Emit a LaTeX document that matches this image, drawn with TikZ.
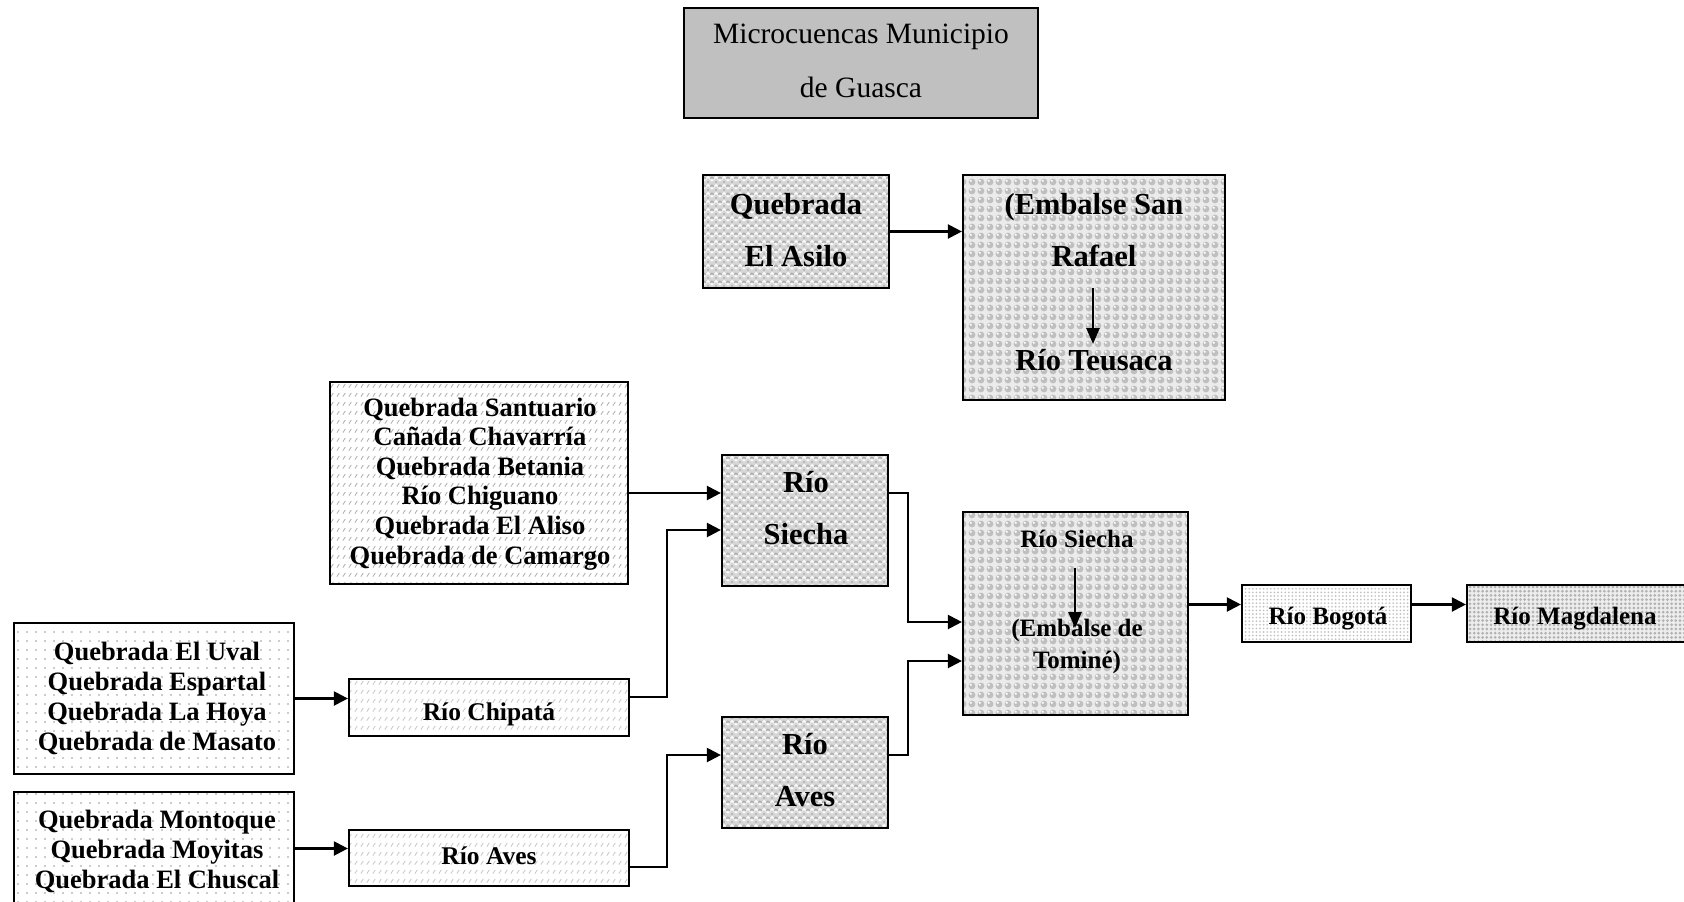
\documentclass[tikz,border=0pt]{standalone}
\usepackage{fontspec}
\setmainfont{Liberation Serif}
\usetikzlibrary{patterns.meta,arrows.meta}

\newcommand\stk[1]{\begin{tabular}[t]{@{}c@{}}#1\end{tabular}}
\newcommand\ftitle{\fontsize{29.5}{54}\selectfont}
\newcommand\fbig{\fontsize{30.5}{52}\selectfont\bfseries}
\newcommand\flista{\fontsize{26.5}{29.6}\selectfont\bfseries}
\newcommand\flistb{\fontsize{26.5}{30}\selectfont\bfseries}
\newcommand\fmid{\fontsize{25}{32}\selectfont\bfseries}
\newcommand\fsmall{\fontsize{25.5}{30}\selectfont\bfseries}

\definecolor{titlegray}{RGB}{192,192,192}

\pgfdeclarepattern{
  name=zigA,
  type=uncolored,
  bottom left={\pgfpoint{-1pt}{-1pt}},
  top right={\pgfpoint{9pt}{9pt}},
  tile size={\pgfpoint{8pt}{8pt}},
  code={
    \pgfsetlinewidth{1.4pt}
    \pgfpathmoveto{\pgfpoint{0pt}{1pt}}
    \pgfpathlineto{\pgfpoint{4pt}{5pt}}
    \pgfpathlineto{\pgfpoint{8pt}{1pt}}
    \pgfusepath{stroke}
  }
}
\pgfdeclarepattern{
  name=zigB,
  type=uncolored,
  bottom left={\pgfpoint{-1pt}{-1pt}},
  top right={\pgfpoint{9pt}{9pt}},
  tile size={\pgfpoint{8pt}{8pt}},
  code={
    \pgfsetlinewidth{1.1pt}
    \pgfpathmoveto{\pgfpoint{0pt}{5pt}}
    \pgfpathlineto{\pgfpoint{2pt}{3pt}}
    \pgfpathmoveto{\pgfpoint{6pt}{3pt}}
    \pgfpathlineto{\pgfpoint{8pt}{5pt}}
    \pgfpathmoveto{\pgfpoint{4pt}{9pt}}
    \pgfpathlineto{\pgfpoint{4pt}{7pt}}
    \pgfusepath{stroke}
  }
}
\pgfdeclarepattern{
  name=dashdiag,
  type=uncolored,
  bottom left={\pgfpoint{0pt}{0pt}},
  top right={\pgfpoint{6pt}{9pt}},
  tile size={\pgfpoint{6pt}{9pt}},
  code={
    \pgfsetlinewidth{0.9pt}
    \pgfpathmoveto{\pgfpoint{1pt}{1.5pt}}
    \pgfpathlineto{\pgfpoint{3.8pt}{5.5pt}}
    \pgfusepath{stroke}
  }
}

\tikzset{
  box/.style={draw, line width=2.2pt, rectangle, inner sep=0pt},
  reborder/.style={postaction={draw, line width=2.2pt}},
  titlebox/.style={box, fill=titlegray},
  weavebox/.style={box, fill=gray!32,
    postaction={pattern=zigA, pattern color=white},
    postaction={pattern=zigB, pattern color=gray!65}, reborder},
  spherebox/.style={box, fill=gray!16,
    postaction={pattern={Dots[distance=9pt,radius=3.4pt]}, pattern color=gray!50},
    postaction={pattern={Dots[distance=9pt,radius=1.2pt,xshift=-1.2pt,yshift=1.2pt]}, pattern color=white}, reborder},
  diagbox/.style={box, fill=white,
    postaction={pattern=dashdiag, pattern color=gray!62}, reborder},
  diaglight/.style={box, fill=white,
    postaction={pattern=dashdiag, pattern color=gray!45}, reborder},
  dotbox/.style={box, fill=white,
    postaction={pattern={Dots[distance=9pt,radius=0.95pt]}, pattern color=gray!80}, reborder},
  finebox/.style={box, fill=white,
    postaction={pattern={Dots[distance=3.6pt,radius=0.95pt]}, pattern color=gray!48}, reborder},
  densebox/.style={box, fill=gray!14,
    postaction={pattern={Dots[distance=4.2pt,radius=1.5pt]}, pattern color=gray!60}, reborder},
  txt/.style={inner sep=0pt, anchor=base, text=black},
  arr/.style={line width=2.2pt, -{Triangle[length=14pt,width=14pt]}},
  inarr/.style={line width=2.6pt, -{Triangle[length=16pt,width=13pt]}},
}

\begin{document}
\begin{tikzpicture}[x=1pt,y=-1pt]
\useasboundingbox (0,0) rectangle (1684,902);

% boxes
\node[titlebox, minimum width=354pt, minimum height=110pt] (title) at (861,63) {};
\node[weavebox, minimum width=186pt, minimum height=113pt] (asilo) at (796,231.5) {};
\node[spherebox, minimum width=262pt, minimum height=225pt] (emb) at (1094,287.5) {};
\node[diagbox, minimum width=298pt, minimum height=202pt] (sant) at (479,483) {};
\node[dotbox, minimum width=280pt, minimum height=151pt] (uval) at (154,698.5) {};
\node[dotbox, minimum width=280pt, minimum height=113pt] (mont) at (154,848.5) {};
\node[diaglight, minimum width=280pt, minimum height=57pt] (chip) at (489,707.5) {};
\node[diaglight, minimum width=280pt, minimum height=56pt] (avsm) at (489,858) {};
\node[weavebox, minimum width=166pt, minimum height=131pt] (siecha) at (805,520.5) {};
\node[weavebox, minimum width=166pt, minimum height=111pt] (aves) at (805,772.5) {};
\node[spherebox, minimum width=225pt, minimum height=203pt] (tom) at (1075.5,613.5) {};
\node[finebox, minimum width=169pt, minimum height=57pt] (bog) at (1326.5,613.5) {};
\node[densebox, minimum width=223pt, minimum height=57pt] (mag) at (1578.5,613.5) {};

% texts
\node[txt, font=\ftitle] (titlet) at (861,43) {\stk{Microcuencas Municipio\\de Guasca}};
\node[txt, font=\fbig] (asilot) at (796,214) {\stk{Quebrada\\El Asilo}};
\node[txt, font=\fbig] (embt1) at (1094,214) {\stk{(Embalse San\\Rafael}};
\node[txt, font=\fbig] (embt2) at (1094,370) {Río Teusaca};
\node[txt, font=\flista] (santt) at (480,416) {\stk{Quebrada Santuario\\Cañada Chavarría\\Quebrada Betania\\Río Chiguano\\Quebrada El Aliso\\Quebrada de Camargo}};
\node[txt, font=\flistb] (uvalt) at (157,660) {\stk{Quebrada El Uval\\Quebrada Espartal\\Quebrada La Hoya\\Quebrada de Masato}};
\node[txt, font=\flistb] (montt) at (157,828) {\stk{Quebrada Montoque\\Quebrada Moyitas\\Quebrada El Chuscal}};
\node[txt, font=\fsmall] (chipt) at (489,720) {Río Chipatá};
\node[txt, font=\fsmall] (avsmt) at (489,864) {Río Aves};
\node[txt, font=\fbig] (siechat) at (806,492) {\stk{Río\\Siecha}};
\node[txt, font=\fbig] (avest) at (805,754) {\stk{Río\\Aves}};
\node[txt, font=\fmid] (tomt1) at (1077,547) {Río Siecha};
\node[txt, font=\fmid] (tomt2) at (1077,636) {\stk{(Embalse de\\Tominé)}};
\node[txt, font=\fmid] (bogt) at (1328,624) {Río Bogotá};
\node[txt, font=\fmid] (magt) at (1575,624) {Río Magdalena};

% bend / inner points
\coordinate (ea) at (1093,288);
\coordinate (eb) at (1093,344);
\coordinate (ta) at (1075,568);
\coordinate (tb) at (1075,628);
\coordinate (s1) at (722,493);
\coordinate (k1) at (667,530);
\coordinate (k2) at (667,755);
\coordinate (k3) at (908,622);
\coordinate (k4) at (908,661);

% connectors
\draw[arr] (asilo.east) -- (asilo.east -| emb.west);
\draw[inarr] (ea) -- (eb);
\draw[inarr] (ta) -- (tb);
\draw[arr] (sant.east |- s1) -- (s1 -| siecha.west);
\draw[arr] ([yshift=10.5pt]chip.east) -| (k1) -- (k1 -| siecha.west);
\draw[arr] ([yshift=-9pt]avsm.east) -| (k2) -- (k2 -| aves.west);
\draw[arr] ([yshift=27.5pt]siecha.east) -| (k3) -- (k3 -| tom.west);
\draw[arr] ([yshift=17.5pt]aves.east) -| (k4) -- (k4 -| tom.west);
\draw[arr] (uval.east) -- (uval.east -| chip.west);
\draw[arr] (mont.east) -- (mont.east -| avsm.west);
\draw[arr] ([yshift=9pt]tom.east) -- ([yshift=9pt]tom.east -| bog.west);
\draw[arr] ([yshift=9pt]bog.east) -- ([yshift=9pt]bog.east -| mag.west);
\end{tikzpicture}
\end{document}
